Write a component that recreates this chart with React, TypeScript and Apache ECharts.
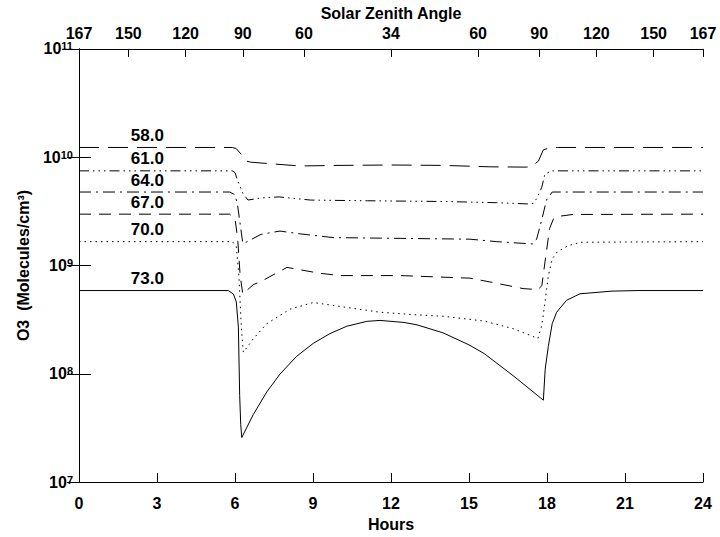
import React, { useEffect, useRef } from 'react';
import * as echarts from 'echarts';

// Hours (bottom axis) tick values
const hourTicks = [0, 3, 6, 9, 12, 15, 18, 21, 24];
// Solar zenith angle (top axis): positions in hours and labels
const szaHours = [0, 1.9, 4.1, 6.3, 8.65, 12, 15.35, 17.7, 19.9, 22.1, 24];
const szaLabels = ['167', '150', '120', '90', '60', '34', '60', '90', '120', '150', '167'];

// Curve labels
const curveNames = ['58.0', '61.0', '64.0', '67.0', '70.0', '73.0'];

// 58.0
const h58 = [0, 5.9, 6.05, 6.2, 6.45, 6.6, 7.5, 8.5, 10, 12, 14, 15.8, 17.2, 17.4, 17.67, 17.86, 18.1, 18.4, 24];
const v58 = [1.23e10, 1.23e10, 1.2e10, 1.09e10, 9.2e9, 9.0e9, 8.65e9, 8.3e9, 8.4e9, 8.47e9, 8.4e9, 8.15e9, 8.1e9, 8.2e9, 9.2e9, 1.17e10, 1.22e10, 1.23e10, 1.23e10];
// 61.0
const h61 = [0, 5.9, 6.0, 6.1, 6.3, 6.5, 7.0, 7.7, 8.9, 11.1, 14, 16.07, 17.3, 17.47, 17.62, 17.8, 17.92, 18.18, 24];
const v61 = [7.48e9, 7.48e9, 7.2e9, 6.08e9, 4.64e9, 4.02e9, 4.21e9, 4.3e9, 4.02e9, 3.96e9, 3.9e9, 3.8e9, 3.7e9, 3.75e9, 4.2e9, 5.29e9, 6.98e9, 7.48e9, 7.48e9];
// 64.0
const h64 = [0, 5.8, 6.0, 6.1, 6.2, 6.3, 6.45, 7.0, 7.73, 8.5, 9.77, 12.35, 15.04, 16.07, 17.46, 17.6, 17.8, 17.98, 18.2, 24];
const v64 = [4.77e9, 4.77e9, 4.5e9, 3.6e9, 2.4e9, 1.6e9, 1.65e9, 1.94e9, 2.08e9, 1.96e9, 1.81e9, 1.78e9, 1.75e9, 1.66e9, 1.58e9, 1.75e9, 2.65e9, 4.02e9, 4.77e9, 4.77e9];
// 67.0
const h67 = [0, 5.8, 6.0, 6.1, 6.2, 6.3, 6.7, 7.0, 8.0, 9.27, 10.04, 12.35, 15.04, 15.9, 17.08, 17.65, 17.8, 17.95, 18.1, 18.25, 18.43, 19.0, 24];
const v67 = [2.98e9, 2.98e9, 2.7e9, 1.8e9, 8.0e8, 5.45e8, 6.65e8, 7.13e8, 9.6e8, 8.47e8, 8.07e8, 8.07e8, 7.64e8, 6.98e8, 6.12e8, 5.99e8, 6.5e8, 1.2e9, 2.2e9, 2.7e9, 2.84e9, 2.96e9, 2.98e9];
// 70.0
const h70 = [0, 5.9, 6.05, 6.15, 6.25, 6.32, 6.7, 7.22, 8.12, 9.01, 10.3, 11.58, 13, 14, 15.58, 16.7, 17.65, 17.8, 17.92, 18.05, 18.2, 18.4, 18.8, 19.3, 24];
const v70 = [1.66e9, 1.66e9, 1.5e9, 8e8, 2.5e8, 1.58e8, 2.1e8, 2.9e8, 3.96e8, 4.55e8, 4.1e8, 3.7e8, 3.5e8, 3.4e8, 3.07e8, 2.61e8, 2.12e8, 2.8e8, 4.5e8, 8e8, 1.15e9, 1.34e9, 1.52e9, 1.64e9, 1.66e9];
// 73.0
const h73 = [0, 5.74, 5.94, 6.05, 6.13, 6.18, 6.22, 6.26, 6.7, 7.22, 7.73, 8.37, 9.01, 9.65, 10.3, 11.07, 11.58, 12.5, 13, 14, 15, 15.58, 16.7, 17.86, 17.93, 18.05, 18.2, 18.37, 18.75, 19.27, 20.5, 21.5, 24];
const v73 = [5.87e8, 5.87e8, 5.45e8, 4.6e8, 2.7e8, 6.3e7, 3.4e7, 2.58e7, 4.19e7, 6.79e7, 9.94e7, 1.45e8, 1.91e8, 2.35e8, 2.75e8, 3.05e8, 3.11e8, 2.98e8, 2.83e8, 2.39e8, 1.85e8, 1.54e8, 9.6e7, 5.71e7, 1.1e8, 1.79e8, 2.9e8, 3.7e8, 4.77e8, 5.48e8, 5.8e8, 5.87e8, 5.87e8];

const curveHours = [h58, h61, h64, h67, h70, h73];
const curveValues = [v58, v61, v64, v67, v70, v73];
const labelHour = 2.63;

const FONT = 'Liberation Sans';

export default function App() {
  const ref = useRef<HTMLDivElement>(null);
  useEffect(() => {
    const chart = echarts.init(ref.current!, null, { renderer: 'svg' });
    const dashes: any[] = [
      [20, 9],
      [10, 4, 1.5, 4, 1.5, 4, 1.5, 4],
      [12, 5, 2, 5],
      [12, 8],
      [1.5, 4],
      'solid',
    ];
    const textBase = { color: '#000', fontFamily: FONT, fontWeight: 'bold' as const, fontSize: 16 };
    const series = curveNames.map((name, i) => ({
      type: 'line',
      name,
      xAxisIndex: 0,
      yAxisIndex: 0,
      data: curveHours[i].map((h, j) => [h, curveValues[i][j]]),
      symbol: 'none',
      showSymbol: false,
      lineStyle: { color: '#000', width: 1, type: dashes[i] },
      markPoint: {
        symbol: 'circle',
        symbolSize: 1,
        itemStyle: { color: 'rgba(0,0,0,0)' },
        data: [
          {
            coord: [labelHour, curveValues[i][0]],
            label: { show: true, position: 'top', distance: 3, formatter: name, ...textBase, fontSize: 17 },
          },
        ],
      },
    }));
    chart.setOption({
      animation: false,
      backgroundColor: '#fff',
      grid: { left: 79, right: 17, top: 45, bottom: 48 },
      xAxis: [
        {
          type: 'value',
          min: 0,
          max: 24,
          interval: 3,
          position: 'bottom',
          name: 'Hours',
          nameLocation: 'middle',
          nameGap: 32,
          nameTextStyle: { ...textBase },
          axisLine: { lineStyle: { color: '#000', width: 1 } },
          axisTick: { inside: true, length: 9, lineStyle: { color: '#000' } },
          axisLabel: { margin: 13, ...textBase, formatter: (v: number) => (hourTicks.includes(v) ? String(v) : '') },
          splitLine: { show: false },
        },
        {
          type: 'value',
          min: 0,
          max: 24,
          position: 'top',
          name: 'Solar Zenith Angle',
          nameLocation: 'middle',
          nameGap: 18,
          nameTextStyle: { ...textBase },
          axisLine: { lineStyle: { color: '#000', width: 1 } },
          axisTick: { inside: true, length: 8, customValues: szaHours, lineStyle: { color: '#000' } },
          axisLabel: {
            margin: 8,
            ...textBase,
            lineHeight: 14,
            customValues: szaHours,
            formatter: (v: number) => {
              const k = szaHours.findIndex((s) => Math.abs(s - v) < 1e-6);
              return k >= 0 ? szaLabels[k] : '';
            },
          },
          splitLine: { show: false },
        },
      ],
      yAxis: [
        {
          type: 'log',
          logBase: 10,
          min: 1e7,
          max: 1e11,
          name: 'O3  (Molecules/cm³)',
          nameLocation: 'middle',
          nameGap: 48,
          nameRotate: 90,
          nameTextStyle: { ...textBase },
          axisLine: { lineStyle: { color: '#000', width: 1 } },
          axisTick: { inside: true, length: 12, lineStyle: { color: '#000' } },
          axisLabel: {
            margin: 6,
            color: '#000',
            formatter: (v: number) => `{b|10}{s|${Math.round(Math.log10(v))}}`,
            rich: {
              b: { fontFamily: FONT, fontWeight: 'bold', fontSize: 16, color: '#000', lineHeight: 16, verticalAlign: 'middle' },
              s: { fontFamily: FONT, fontWeight: 'bold', fontSize: 11, color: '#000', lineHeight: 9, verticalAlign: 'top', padding: [0, 0, 13, 0] },
            },
          },
          splitLine: { show: false },
        },
        {
          type: 'log',
          logBase: 10,
          min: 1e7,
          max: 1e11,
          position: 'right',
          axisLine: { show: true, lineStyle: { color: '#000', width: 1 } },
          axisTick: { inside: true, length: 12, lineStyle: { color: '#000' } },
          axisLabel: { show: false },
          splitLine: { show: false },
        },
      ],
      series,
    });
    return () => chart.dispose();
  }, []);
  return <div ref={ref} style={{ position: 'fixed', left: 0, top: 0, width: 720, height: 537, background: '#fff' }} />;
}
